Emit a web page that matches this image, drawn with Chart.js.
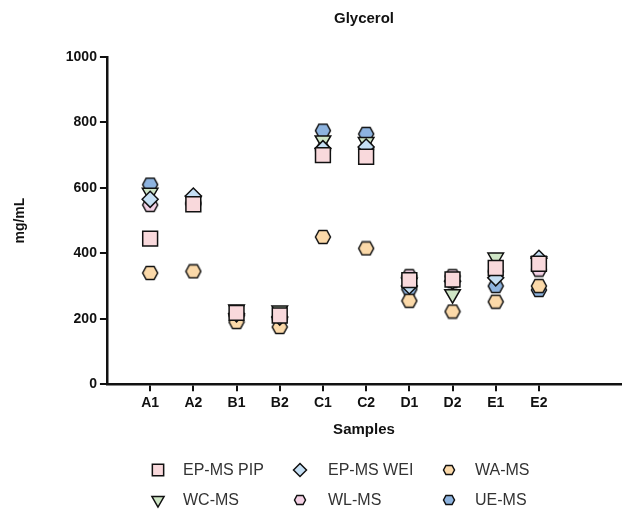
<!DOCTYPE html>
<html>
<head>
<meta charset="utf-8">
<script src="https://cdn.jsdelivr.net/npm/chart.js@4"></script>
<style>
  html, body { margin: 0; padding: 0; background: #fff; }
  #wrap { width: 623px; height: 509px; }
</style>
</head>
<body>
<div id="wrap"><canvas id="myChart" width="623" height="509"></canvas></div>
<script>
// samples on the x axis
const categories = ['A1', 'A2', 'B1', 'B2', 'C1', 'C2', 'D1', 'D2', 'E1', 'E2'];
const yTicks = [0, 200, 400, 600, 800, 1000];

// glycerol, mg/mL
const epMsPip = [445, 550, 218, 210, 700, 695, 318, 320, 355, 368];
const epMsWei = [565, 575, 215, 205, 720, 725, 300, 315, 325, 385];
const waMs    = [340, 345, 190, 175, 450, 415, 255, 222, 252, 300];
const wcMs    = [585, 560, 228, 225, 745, 740, 310, 275, 387, 375];
const wlMs    = [548, 550, 212, 205, 715, 720, 330, 330, 345, 350];
const ueMs    = [610, 555, 210, 200, 775, 765, 290, 315, 300, 288];

// Chart.js has no hexagon, so build one on a small canvas
function hexagon(fill, w, h) {
    const c = document.createElement('canvas');
    c.width = w; c.height = h;
    const g = c.getContext('2d');
    const lw = 1.5;
    g.beginPath();
    g.moveTo(lw, h / 2);
    g.lineTo(w * 0.28, lw);
    g.lineTo(w * 0.72, lw);
    g.lineTo(w - lw, h / 2);
    g.lineTo(w * 0.72, h - lw);
    g.lineTo(w * 0.28, h - lw);
    g.closePath();
    g.fillStyle = fill;
    g.fill();
    g.lineWidth = lw;
    g.strokeStyle = '#111';
    g.stroke();
    return c;
}

const toPoints = arr => arr.map((v, i) => ({ x: i + 1, y: v }));

const series = [
    { label: 'EP-MS PIP', data: epMsPip, color: '#f9d9dc', style: 'rect', radius: 10.5, rot: 0 },
    { label: 'EP-MS WEI', data: epMsWei, color: '#c5dff4', style: 'rectRot', radius: 8, rot: 0 },
    { label: 'WA-MS', data: waMs, color: '#fbd9a9', style: hexagon('#fbd9a9', 18, 16), radius: 8, rot: 0 },
    { label: 'WC-MS', data: wcMs, color: '#cfe6c6', style: 'triangle', radius: 9, rot: 180 },
    { label: 'WL-MS', data: wlMs, color: '#f5d2e6', style: hexagon('#f5d2e6', 18, 16), radius: 8, rot: 0 },
    { label: 'UE-MS', data: ueMs, color: '#8db3df', style: hexagon('#8db3df', 18, 16), radius: 8, rot: 0 }
];

const legendSmall = [
    { style: 'rect', radius: 8, rot: 0 },
    { style: 'rectRot', radius: 6.5, rot: 0 },
    { style: hexagon('#fbd9a9', 14, 12), radius: 6, rot: 0 },
    { style: 'triangle', radius: 7, rot: 180 },
    { style: hexagon('#f5d2e6', 14, 12), radius: 6, rot: 0 },
    { style: hexagon('#8db3df', 14, 12), radius: 6, rot: 0 }
];

const datasets = series.map(s => ({
    label: s.label,
    data: toPoints(s.data),
    backgroundColor: s.color,
    borderColor: '#111',
    borderWidth: 1.5,
    pointStyle: s.style,
    pointRadius: s.radius,
    pointHoverRadius: s.radius,
    rotation: s.rot,
    showLine: false
}));

// title + legend grid drawn by hand so they sit where the reference has them
const extras = {
    id: 'extras',
    afterDraw(chart) {
        const c = chart.ctx;
        const area = chart.chartArea;
        c.save();
        c.fillStyle = '#111';
        c.font = 'bold 15px Arial, "Liberation Sans", sans-serif';
        c.textAlign = 'center';
        c.textBaseline = 'middle';
        c.fillText('Glycerol', (area.left + area.right) / 2, 19);

        const colX = [158, 300, 449];
        const textX = [183, 328, 475];
        const rowY = [470, 500];
        c.font = '16px Arial, "Liberation Sans", sans-serif';
        c.textAlign = 'left';
        series.forEach((s, i) => {
            const col = i % 3, row = Math.floor(i / 3);
            const m = legendSmall[i];
            c.fillStyle = s.color;
            c.strokeStyle = '#111';
            c.lineWidth = 1.5;
            Chart.helpers.drawPoint(c, { pointStyle: m.style, rotation: m.rot, radius: m.radius, borderWidth: 1.5 }, colX[col], rowY[row]);
            c.fillStyle = '#333';
            c.fillText(s.label, textX[col], rowY[row] + 1);
        });
        c.restore();
    }
};

new Chart(document.getElementById('myChart'), {
    type: 'scatter',
    data: { datasets: datasets },
    plugins: [extras],
    options: {
        responsive: false,
        animation: false,
        layout: { autoPadding: false, padding: { top: 57, right: 2, bottom: 66, left: 8 } },
        plugins: {
            legend: { display: false },
            tooltip: { enabled: false }
        },
        scales: {
            x: {
                type: 'linear',
                min: 0,
                max: 11.9,
                afterBuildTicks: axis => { axis.ticks = categories.map((c, i) => ({ value: i + 1 })); },
                ticks: {
                    autoSkip: false,
                    maxRotation: 0,
                    color: '#111',
                    font: { family: 'Arial, "Liberation Sans", sans-serif', size: 14, weight: 'bold' },
                    padding: 4,
                    callback: v => categories[v - 1] || ''
                },
                grid: { drawOnChartArea: false, drawTicks: true, tickLength: 7, color: '#111', lineWidth: 2 },
                border: { display: true, color: '#111', width: 2.5 },
                title: {
                    display: true,
                    text: 'Samples',
                    color: '#111',
                    font: { family: 'Arial, "Liberation Sans", sans-serif', size: 15, weight: 'bold' },
                    padding: { top: 5 }
                }
            },
            y: {
                min: 0,
                max: 1000,
                afterBuildTicks: axis => { axis.ticks = yTicks.map(v => ({ value: v })); },
                ticks: {
                    color: '#111',
                    font: { family: 'Arial, "Liberation Sans", sans-serif', size: 14, weight: 'bold' },
                    padding: 3,
                    callback: v => String(v)
                },
                grid: { drawOnChartArea: false, drawTicks: true, tickLength: 7, color: '#111', lineWidth: 2 },
                border: { display: true, color: '#111', width: 2.5 },
                title: {
                    display: true,
                    text: 'mg/mL',
                    color: '#111',
                    font: { family: 'Arial, "Liberation Sans", sans-serif', size: 14, weight: 'bold' },
                    padding: { bottom: 34 }
                }
            }
        }
    }
});
</script>
</body>
</html>
